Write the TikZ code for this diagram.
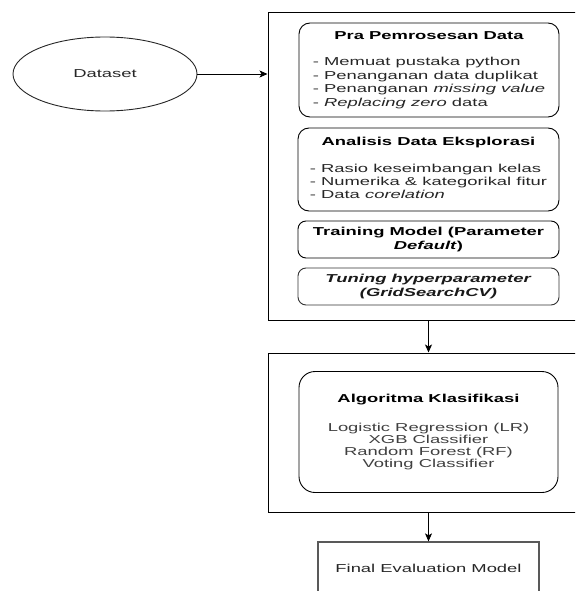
\documentclass[tikz,border=0pt]{standalone}
\usepackage{fontspec}
\setmainfont{Liberation Sans}[FakeStretch=1.6]
\usetikzlibrary{shapes.geometric,arrows.meta}
\begin{document}
\begin{tikzpicture}[x=1pt,y=-1pt,
  outerbox/.style={draw=black, line width=1pt, inner sep=0pt},
  rbox/.style={draw=black, line width=0.9pt, rounded corners=11pt, inner sep=2pt,
    font=\fontsize{11.5}{13.4}\selectfont, text=black!85, align=center},
  arr/.style={-{Stealth[length=8pt,width=7pt,inset=2pt]}, line width=0.9pt},
  txt/.style={font=\fontsize{11.5}{13.4}\selectfont, text=black!85}]
\clip (0,0) rectangle (575,591);

% Dataset
\node[ellipse, draw=black!85, line width=0.9pt, minimum width=184pt, minimum height=74pt,
  inner sep=0pt, txt] (data) at (105,74) {Dataset};

% outer box 1
\node[outerbox, minimum width=310pt, minimum height=307pt] (prep) at (423,166.5) {};

\node[rbox, minimum width=260pt, minimum height=94pt] (pra) at (429,70) {%
  \begin{tabular}{@{}l@{}}
  \multicolumn{1}{@{}c@{}}{\textbf{\color{black}Pra Pemrosesan Data}}\\[13.4pt]
  - Memuat pustaka python\\
  - Penanganan data duplikat\\
  - Penanganan \textit{missing value}\\
  - \textit{Replacing zero} data
  \end{tabular}};

\node[rbox, minimum width=261pt, minimum height=83pt] (eda) at (428.5,169.5) {%
  \begin{tabular}{@{}l@{}}
  \multicolumn{1}{@{}c@{}}{\textbf{\color{black}Analisis Data Eksplorasi}}\\[13.4pt]
  - Rasio keseimbangan kelas\\
  - Numerika \& kategorikal fitur\\
  - Data \textit{corelation}
  \end{tabular}};

\node[rbox, rounded corners=8pt, minimum width=261pt, minimum height=37pt, text=black] (train) at (428.5,239.5) {%
  \textbf{Training Model (Parameter}\\\textbf{\textit{Default})}};

\node[rbox, rounded corners=8pt, draw=black!80, minimum width=261pt, minimum height=37pt, text=black!90] (tune) at (428.5,286.5) {%
  \textbf{\textit{Tuning hyperparameter}}\\\textbf{\textit{(GridSearchCV)}}};

% outer box 2
\node[outerbox, minimum width=310pt, minimum height=159pt] (klas) at (423,432.5) {};

\node[rbox, rounded corners=16pt, minimum width=259pt, minimum height=121pt, text=black!75,
  font=\fontsize{11.5}{12}\selectfont] (algo) at (428.5,432) {%
  \textbf{\color{black}Algoritma Klasifikasi}\\[17pt]
  Logistic Regression (LR)\\
  XGB Classifier\\
  Random Forest (RF)\\
  Voting Classifier};

% final
\node[draw=black!65, line width=1.3pt, minimum width=221pt, minimum height=52pt, txt] (final) at (428.5,568) {Final Evaluation Model};

% connectors
\draw[arr] (data.east) -- (data.east -| prep.west);
\draw[arr] (prep.south -| algo.north) -- (klas.north -| algo.north);
\draw[arr] (klas.south -| final.north) -- (final.north);
\end{tikzpicture}
\end{document}
